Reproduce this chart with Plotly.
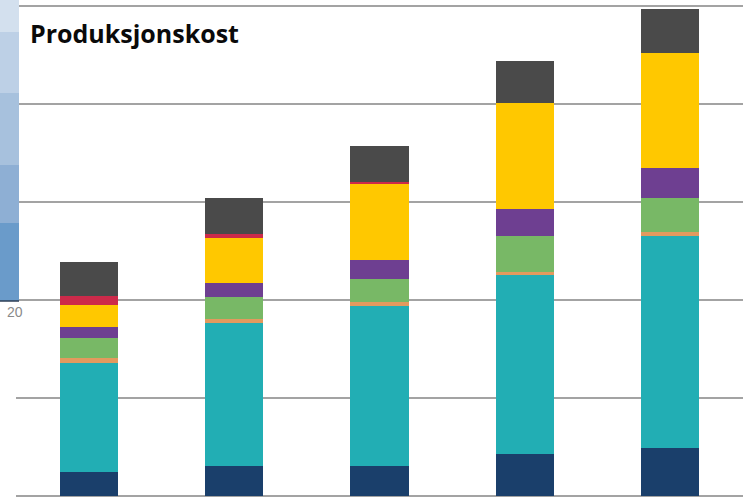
import plotly.graph_objects as go

categories = ["1", "2", "3", "4", "5"]

navy = [2.4, 3.1, 3.1, 4.3, 4.9]
teal = [11.2, 14.6, 16.3, 18.2, 21.6]
orange = [0.5, 0.4, 0.35, 0.4, 0.4]
green = [2.0, 2.2, 2.4, 3.6, 3.5]
purple = [1.1, 1.4, 1.9, 2.8, 3.1]
yellow = [2.3, 4.6, 7.8, 10.8, 11.7]
red = [0.9, 0.4, 0.15, 0.0, 0.0]
gray = [3.5, 3.7, 3.7, 4.3, 4.5]

series = [
    ("Serie 1", navy, "#1a3f6b"),
    ("Serie 2", teal, "#22aeb4"),
    ("Serie 3", orange, "#e39a5e"),
    ("Serie 4", green, "#78b866"),
    ("Serie 5", purple, "#6e3f91"),
    ("Serie 6", yellow, "#ffc800"),
    ("Serie 7", red, "#cc2a4a"),
    ("Serie 8", gray, "#4a4a4a"),
]

fig = go.Figure()
for name, vals, col in series:
    fig.add_trace(go.Bar(x=categories, y=vals, name=name, marker=dict(color=col, line=dict(width=0))))

W, H = 751, 498
ml, mr, mt, mb = 16, 8, 4, 2
pw = W - ml - mr
ph = H - mt - mb


def px_x(x):
    return (x - ml) / pw


def px_y(y):
    return (H - mb - y) / ph


shapes = []
bands = [(0, 32, "#d3e0ee"), (32, 93, "#bdd0e6"), (93, 165, "#a7c1dd"), (165, 223, "#8eafd4"), (223, 301, "#6a9bca")]
for y0, y1, c in bands:
    shapes.append(dict(type="rect", xref="paper", yref="paper", x0=px_x(0), x1=px_x(19), y0=px_y(y1), y1=px_y(y0),
                       fillcolor=c, line=dict(width=0), layer="above"))
shapes.append(dict(type="line", xref="paper", yref="paper", x0=px_x(0), x1=px_x(19), y0=px_y(301), y1=px_y(301),
                   line=dict(color="#2d3e55", width=1.5), layer="above"))

fig.update_layout(
    width=W, height=H,
    margin=dict(l=ml, r=mr, t=mt, b=mb),
    barmode="stack",
    bargap=0.6,
    showlegend=False,
    plot_bgcolor="white",
    paper_bgcolor="white",
    xaxis=dict(showticklabels=False, showgrid=False, zeroline=False, ticks=""),
    yaxis=dict(range=[0, 50.2], tickvals=[0, 10, 20, 30, 40, 50], showticklabels=False, showgrid=True,
               gridcolor="#a3a3a3", gridwidth=2,
               zeroline=True, zerolinecolor="#a3a3a3", zerolinewidth=2, ticks=""),
    shapes=shapes,
    annotations=[
        dict(text="<b>Produksjonskost</b>", xref="paper", yref="paper", x=px_x(28), y=px_y(33), xanchor="left",
             yanchor="middle", showarrow=False, font=dict(family="Open Sans", size=25, color="#0a0a0a")),
        dict(text="20", xref="paper", yref="paper", x=px_x(5), y=px_y(312), xanchor="left",
             yanchor="middle", showarrow=False, font=dict(family="Liberation Sans", size=14, color="#8a8a8a")),
    ],
)

fig.write_html("out.html")
